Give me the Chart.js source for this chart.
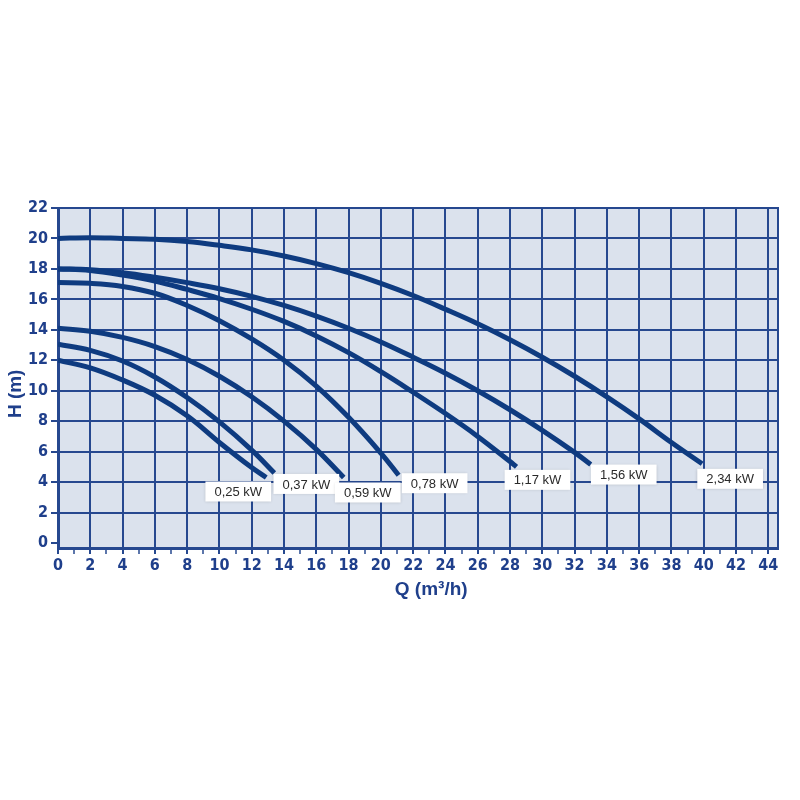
<!DOCTYPE html>
<html>
<head>
<meta charset="utf-8">
<title>Courbes de pompe</title>
<script src="https://cdn.jsdelivr.net/npm/chart.js@4.4.1/dist/chart.umd.min.js"></script>
<style>
  html, body { margin: 0; padding: 0; background: #fff; }
  #wrap { width: 800px; height: 800px; }
</style>
</head>
<body>
<div id="wrap"><canvas id="chart-pompe" width="800" height="800"></canvas></div>
<script>
// valeurs : débit Q (m3/h) et hauteur H (m)
const puissances = ['0,25 kW', '0,37 kW', '0,59 kW', '0,78 kW', '1,17 kW', '1,56 kW', '2,34 kW'];

const debit025 = [0, 2, 4, 6, 8, 10, 12, 12.9];
const haut025 = [12, 11.5, 10.7, 9.7, 8.35, 6.6, 4.95, 4.3];

const debit037 = [0, 2, 4, 6, 8, 10, 12, 13.4];
const haut037 = [13.05, 12.65, 11.95, 10.9, 9.55, 7.95, 6.1, 4.6];

const debit059 = [0, 2, 4, 6, 8, 10, 12, 14, 16, 17.7];
const haut059 = [14.1, 13.9, 13.5, 12.9, 12.05, 10.95, 9.6, 8.0, 6.15, 4.3];

const debit078 = [0, 2, 4, 6, 8, 10, 12, 14, 16, 18, 20, 21.1];
const haut078 = [17.1, 17.05, 16.85, 16.4, 15.6, 14.6, 13.4, 12.0, 10.3, 8.25, 5.9, 4.45];

const debit117 = [0, 2, 4, 6, 8, 10, 12, 14, 16, 18, 20, 22, 24, 26, 28, 28.4];
const haut117 = [18, 17.9, 17.6, 17.2, 16.65, 16.05, 15.35, 14.55, 13.6, 12.5, 11.25, 9.9, 8.5, 7.0, 5.35, 5.0];

const debit156 = [0, 2, 4, 6, 8, 10, 12, 14, 16, 18, 20, 22, 24, 26, 28, 30, 32, 33];
const haut156 = [18, 17.95, 17.75, 17.45, 17.1, 16.7, 16.2, 15.6, 14.9, 14.1, 13.2, 12.2, 11.15, 10.0, 8.75, 7.4, 5.95, 5.15];

const debit234 = [0, 2, 4, 6, 8, 10, 12, 14, 16, 18, 20, 22, 24, 26, 28, 30, 32, 34, 36, 38, 39.9];
const haut234 = [20, 20.05, 20.0, 19.95, 19.8, 19.55, 19.25, 18.85, 18.35, 17.75, 17.05, 16.25, 15.35, 14.4, 13.35, 12.2, 10.95, 9.6, 8.15, 6.6, 5.2];

const ticksQ = [0, 2, 4, 6, 8, 10, 12, 14, 16, 18, 20, 22, 24, 26, 28, 30, 32, 34, 36, 38, 40, 42, 44];
const ticksH = [0, 2, 4, 6, 8, 10, 12, 14, 16, 18, 20, 22];

const debits = [debit025, debit037, debit059, debit078, debit117, debit156, debit234];
const hauteurs = [haut025, haut037, haut059, haut078, haut117, haut156, haut234];

const bleuCourbe = '#0e3b80';
const bleuGrille = '#26488f';
const bleuTexte = '#1f3f8b';
const fondGrille = '#dbe2ed';
const policeAxe = "'Liberation Sans Narrow', 'DejaVu Sans Condensed', 'Arial Narrow', sans-serif";
const policeTitre = "'Liberation Sans', Arial, sans-serif";

// décalage (px) de chaque étiquette par rapport à la fin de sa courbe
const decalages = [[-28, 14], [32, 11], [24, 15], [36, 8], [21, 13], [33, 10], [28, 15]];

const fondPlugin = {
    id: 'fond',
    beforeDraw(chart) {
        const { ctx, chartArea: a } = chart;
        ctx.save();
        ctx.fillStyle = fondGrille;
        ctx.fillRect(a.left, a.top, a.right - a.left, a.bottom - a.top);
        ctx.restore();
    }
};

const etiquettesPlugin = {
    id: 'etiquettes',
    afterDatasetsDraw(chart) {
        const { ctx } = chart;
        ctx.save();
        ctx.font = "13px 'Liberation Sans', Arial, sans-serif";
        ctx.textAlign = 'center';
        ctx.textBaseline = 'middle';
        chart.data.datasets.forEach((ds, i) => {
            const meta = chart.getDatasetMeta(i);
            const fin = meta.data[meta.data.length - 1];
            const cx = fin.x + decalages[i][0];
            const cy = fin.y + decalages[i][1];
            const w = ctx.measureText(ds.label).width + 18;
            const h = 20;
            ctx.shadowColor = 'rgba(0,0,0,0.18)';
            ctx.shadowBlur = 3;
            ctx.fillStyle = '#ffffff';
            ctx.fillRect(cx - w / 2, cy - h / 2, w, h);
            ctx.shadowBlur = 0;
            ctx.shadowColor = 'transparent';
            ctx.fillStyle = '#2a2a2a';
            ctx.fillText(ds.label, cx, cy + 1);
        });
        ctx.restore();
    }
};

const datasets = puissances.map((p, i) => ({
    label: p,
    data: debits[i].map((q, j) => ({ x: q, y: hauteurs[i][j] })),
    showLine: true,
    borderColor: bleuCourbe,
    borderWidth: 5,
    pointRadius: 0,
    tension: 0.4,
    fill: false
}));

const canvas = document.getElementById('chart-pompe');
new Chart(canvas, {
    type: 'scatter',
    data: { datasets },
    plugins: [fondPlugin, etiquettesPlugin],
    options: {
        responsive: false,
        animation: false,
        layout: { padding: { top: 208, right: 22, bottom: 199, left: 0 } },
        plugins: {
            legend: { display: false },
            tooltip: { enabled: false }
        },
        scales: {
            y: {
                type: 'linear',
                min: -0.33,
                max: 22,
                afterBuildTicks: s => { s.ticks = ticksH.map(v => ({ value: v })); },
                afterFit: s => { s.width = 58; },
                ticks: {
                    color: bleuTexte,
                    padding: 3,
                    font: { family: policeAxe, size: 16, weight: 'bold' }
                },
                grid: {
                    color: c => (c.tick && c.tick.value > 0) ? bleuGrille : 'transparent',
                    lineWidth: 2,
                    tickColor: bleuGrille,
                    tickLength: 7
                },
                border: { color: bleuGrille, width: 3 },
                title: {
                    display: true,
                    // espaces insécables : le titre est un peu plus bas que le centre
                    text: 'H (m)\u00a0\u00a0\u00a0\u00a0\u00a0\u00a0',
                    color: bleuTexte,
                    padding: { top: 4, bottom: 0 },
                    font: { family: policeTitre, size: 19, weight: 'bold' }
                }
            },
            x: {
                type: 'linear',
                min: 0,
                max: 44.6,
                afterBuildTicks: s => {
                    s.ticks = [];
                    for (let v = 0; v <= 44; v++) s.ticks.push({ value: v });
                },
                afterFit: s => { s.height = 53; },
                ticks: {
                    color: bleuTexte,
                    autoSkip: false,
                    maxRotation: 0,
                    padding: 2,
                    font: { family: policeAxe, size: 16, weight: 'bold' },
                    callback: v => ticksQ.includes(v) ? String(v) : ''
                },
                grid: {
                    color: c => (c.tick && c.tick.value % 2 === 0) ? bleuGrille : 'transparent',
                    lineWidth: 2,
                    tickColor: bleuGrille,
                    tickWidth: c => (c.tick && c.tick.value % 2 === 0) ? 2 : 1.5,
                    tickLength: 6
                },
                border: { color: bleuGrille, width: 3 },
                title: {
                    display: true,
                    // décalé vers la droite comme sur l'original
                    text: '\u00a0\u00a0\u00a0\u00a0\u00a0Q (m³/h)',
                    color: bleuTexte,
                    padding: { top: 0, bottom: 0 },
                    font: { family: policeTitre, size: 19, weight: 'bold' }
                }
            },
            cadre: {
                type: 'linear',
                axis: 'y',
                position: 'right',
                afterFit: s => { s.width = 0; },
                ticks: { display: false },
                grid: { display: false },
                border: { display: true, color: bleuGrille, width: 2 }
            }
        }
    }
});
</script>
</body>
</html>
